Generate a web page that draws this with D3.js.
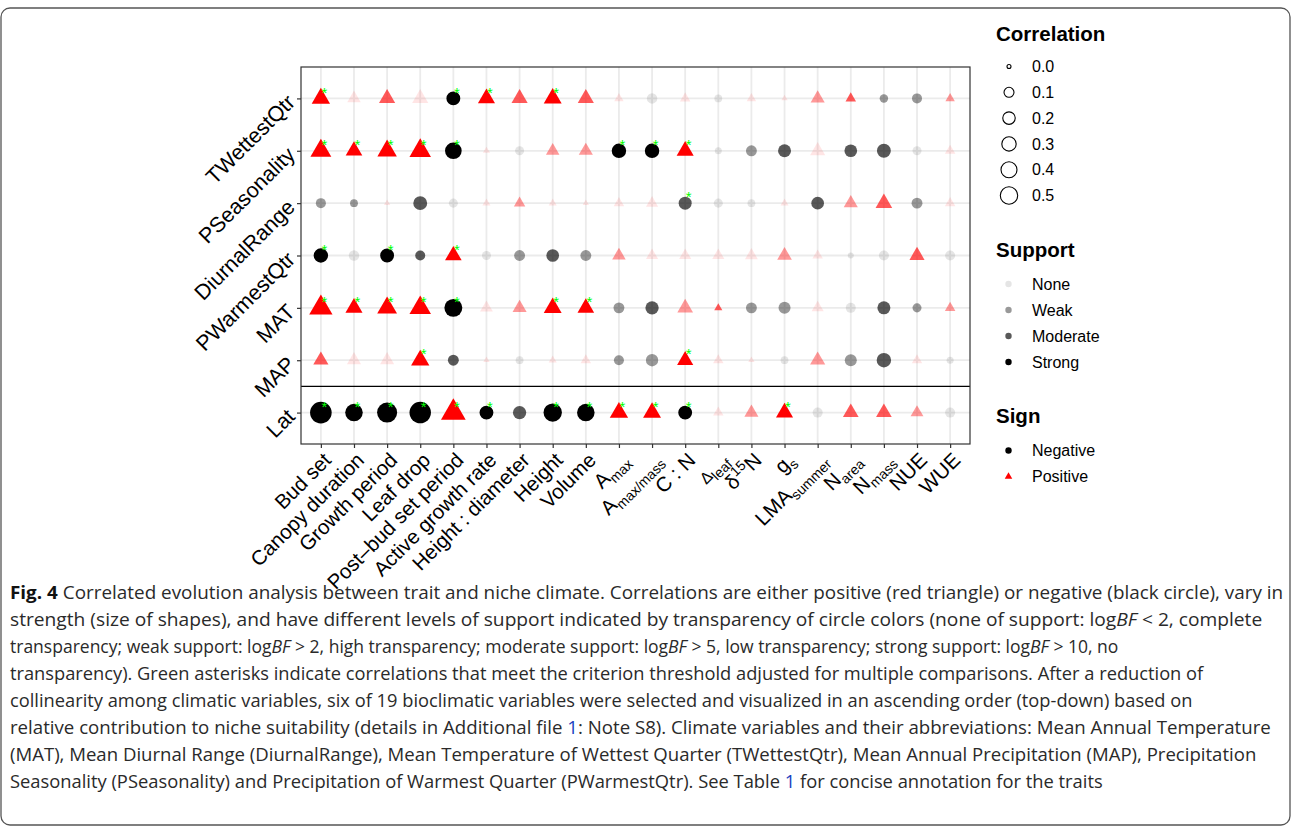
<!DOCTYPE html>
<html>
<head>
<meta charset="utf-8">
<script src="https://cdn.jsdelivr.net/npm/d3@7"></script>
<style>
  html, body { margin: 0; padding: 0; background: #fff; }
  svg { display: block; }
</style>
</head>
<body>
<svg id="chart" width="1292" height="827"></svg>
<script>
// traits (x) and climate variables (y, top to bottom)
const traits = ["Bud set", "Canopy duration", "Growth period", "Leaf drop", "Post–bud set period",
  "Active growth rate", "Height : diameter", "Height", "Volume", "Amax", "Amax/mass", "C : N",
  "Δleaf", "δ15N", "gs", "LMAsummer", "Narea", "Nmass", "NUE", "WUE"];
const climVars = ["TWettestQtr", "PSeasonality", "DiurnalRange", "PWarmestQtr", "MAT", "MAP", "Lat"];

// signed correlation (negative = circle, positive = triangle), one list per climate variable
const corr = [
  [0.17, 0.07, 0.12, 0.12, -0.18, 0.14, 0.12, 0.16, 0.12, 0.02, -0.08, 0.03, -0.03, 0.02, 0.002, 0.08, 0.03, -0.04, -0.07, 0.02],
  [0.24, 0.13, 0.20, 0.26, -0.29, 0.005, -0.05, 0.07, 0.08, -0.20, -0.20, 0.14, -0.02, -0.09, -0.15, 0.10, -0.14, -0.18, -0.05, 0.03],
  [-0.07, -0.03, 0.002, -0.18, -0.05, 0.01, 0.04, 0.01, 0.002, 0.03, 0.05, -0.15, -0.05, -0.03, 0.01, -0.14, 0.08, 0.13, -0.09, 0.03],
  [-0.20, -0.08, -0.18, -0.07, 0.13, -0.05, -0.09, -0.14, -0.09, 0.07, 0.05, 0.05, 0.05, 0.06, 0.09, 0.03, -0.01, -0.07, 0.10, -0.07],
  [0.32, 0.14, 0.21, 0.26, -0.35, 0.06, 0.08, 0.16, 0.13, -0.09, -0.16, 0.11, 0.01, -0.09, -0.12, 0.05, -0.07, -0.15, -0.05, 0.03],
  [0.10, 0.08, 0.08, 0.17, -0.09, 0.002, -0.03, 0.01, 0.03, -0.07, -0.13, 0.12, 0.03, 0.002, -0.03, 0.10, -0.12, -0.20, 0.03, -0.02],
  [-0.55, -0.33, -0.46, -0.54, 0.37, -0.18, -0.16, -0.37, -0.33, 0.17, 0.16, -0.18, 0.03, 0.08, 0.14, -0.07, 0.11, 0.11, 0.06, -0.07],
];

// support level: 0 None, 1 Weak, 2 Moderate, 3 Strong
const support = [
  [3, 0, 2, 0, 3, 3, 2, 3, 2, 0, 0, 0, 0, 0, 0, 1, 2, 1, 1, 1],
  [3, 3, 3, 3, 3, 0, 0, 1, 1, 3, 3, 3, 0, 1, 2, 0, 2, 2, 0, 0],
  [1, 1, 0, 2, 0, 0, 1, 0, 0, 0, 0, 2, 0, 0, 0, 2, 1, 2, 1, 0],
  [3, 0, 3, 2, 3, 0, 1, 2, 1, 1, 0, 0, 0, 0, 1, 0, 0, 0, 2, 0],
  [3, 3, 3, 3, 3, 0, 1, 3, 3, 1, 2, 1, 2, 1, 1, 0, 0, 2, 1, 1],
  [2, 0, 0, 3, 2, 0, 0, 0, 0, 1, 1, 3, 0, 0, 0, 1, 1, 2, 0, 0],
  [3, 3, 3, 3, 3, 3, 2, 3, 3, 3, 3, 3, 0, 1, 3, 0, 2, 2, 1, 0],
];

// green asterisk: passes adjusted threshold
const signif = [
  [1, 0, 0, 0, 1, 1, 0, 1, 0, 0, 0, 0, 0, 0, 0, 0, 0, 0, 0, 0],
  [1, 1, 1, 1, 1, 0, 0, 0, 0, 1, 1, 1, 0, 0, 0, 0, 0, 0, 0, 0],
  [0, 0, 0, 0, 0, 0, 0, 0, 0, 0, 0, 1, 0, 0, 0, 0, 0, 0, 0, 0],
  [1, 0, 1, 0, 1, 0, 0, 0, 0, 0, 0, 0, 0, 0, 0, 0, 0, 0, 0, 0],
  [1, 1, 1, 1, 1, 0, 0, 1, 1, 0, 0, 0, 0, 0, 0, 0, 0, 0, 0, 0],
  [0, 0, 0, 1, 0, 0, 0, 0, 0, 0, 0, 1, 0, 0, 0, 0, 0, 0, 0, 0],
  [1, 1, 1, 1, 1, 1, 0, 1, 1, 1, 1, 1, 0, 0, 1, 0, 0, 0, 0, 0],
];

const supportLevels = ["None", "Weak", "Moderate", "Strong"];
const corrBreaks = [0.0, 0.1, 0.2, 0.3, 0.4, 0.5];
const signLevels = ["Negative", "Positive"];

// label pieces for the trait names that need sub/superscripts
const traitLabels = {
  "Amax": [["A"], ["max", "sub"]],
  "Amax/mass": [["A"], ["max/mass", "sub"]],
  "Δleaf": [["Δ", "small"], ["leaf", "sub"]],
  "δ15N": [["δ"], ["15", "sup"], ["N"]],
  "gs": [["g"], ["s", "sub"]],
  "LMAsummer": [["LMA"], ["summer", "sub"]],
  "Narea": [["N"], ["area", "sub"]],
  "Nmass": [["N"], ["mass", "sub"]],
};

const settings = {
  panel: { left: 301, right: 970, top: 67, bottom: 444 },
  font: "'Liberation Sans', Arial, Helvetica, sans-serif",
  xSize: 20.5,
  ySize: 21.5,
  alpha: [0.1, 0.4, 0.65, 1],
};

const svg = d3.select("#chart");
const P = settings.panel;

// outer frame
svg.append("rect")
  .attr("x", 1).attr("y", 8).attr("width", 1289).attr("height", 817)
  .attr("rx", 9).attr("fill", "#fff").attr("stroke", "#555").attr("stroke-width", 1.3);

const x = d3.scalePoint().domain(traits).range([P.left, P.right]).padding(0.6);
const y = d3.scalePoint().domain(climVars).range([P.top, P.bottom]).padding(0.6);
const rScale = d3.scaleSqrt().domain([0, 0.55]).range([1.8, 10.8]);
const rLegend = d3.scaleSqrt().domain([0, 0.5]).range([2.0, 8.7]);

svg.append("rect")
  .attr("x", P.left).attr("y", P.top)
  .attr("width", P.right - P.left).attr("height", P.bottom - P.top)
  .attr("fill", "#fff");

// grid
const grid = svg.append("g").attr("class", "grid")
  .attr("stroke", "#ebebeb").attr("stroke-width", 1.8);
grid.selectAll("line.v").data(traits).join("line")
  .attr("x1", (d) => x(d)).attr("x2", (d) => x(d))
  .attr("y1", P.top).attr("y2", P.bottom);
grid.selectAll("line.h").data(climVars).join("line")
  .attr("y1", (d) => y(d)).attr("y2", (d) => y(d))
  .attr("x1", P.left).attr("x2", P.right);

// points
const cells = [];
climVars.forEach((cv, i) => {
  traits.forEach((t, j) => {
    cells.push({ cv, t, v: corr[i][j], s: support[i][j], star: signif[i][j] });
  });
});

const tri = (r) => `M0,${-1.5551 * r}L${1.3468 * r},${0.7776 * r}L${-1.3468 * r},${0.7776 * r}Z`;

const pts = svg.append("g").attr("class", "points");
pts.selectAll("path")
  .data(cells)
  .join("path")
  .attr("transform", (d) => `translate(${x(d.t)},${y(d.cv)})`)
  .attr("d", (d) => {
    const r = rScale(Math.abs(d.v));
    return d.v < 0 ? d3.arc()({ innerRadius: 0, outerRadius: r, startAngle: 0, endAngle: 2 * Math.PI }) : tri(r);
  })
  .attr("fill", (d) => (d.v < 0 ? "#000" : "#ff0000"))
  .attr("fill-opacity", (d) => settings.alpha[d.s]);

// divider between MAP and Lat
const yDiv = (y("MAP") + y("Lat")) / 2;
svg.append("line")
  .attr("x1", P.left).attr("x2", P.right).attr("y1", yDiv).attr("y2", yDiv)
  .attr("stroke", "#000").attr("stroke-width", 1.2);

// asterisks
svg.append("g").attr("class", "stars")
  .selectAll("text")
  .data(cells.filter((d) => d.star))
  .join("text")
  .attr("x", (d) => x(d.t) + 3.5)
  .attr("y", (d) => y(d.cv) - 0.8)
  .attr("text-anchor", "middle")
  .attr("font-family", settings.font)
  .attr("font-size", 15)
  .attr("fill", "#00ff00")
  .text("*");

// panel border
svg.append("rect")
  .attr("x", P.left).attr("y", P.top)
  .attr("width", P.right - P.left).attr("height", P.bottom - P.top)
  .attr("fill", "none").attr("stroke", "#333").attr("stroke-width", 1.2);

// axes (ticks only, labels drawn rotated below)
svg.append("g")
  .attr("transform", `translate(0,${P.bottom})`)
  .call(d3.axisBottom(x).tickSize(4).tickSizeOuter(0).tickFormat(""))
  .call((g) => g.select(".domain").remove())
  .call((g) => g.selectAll(".tick line").attr("stroke", "#333").attr("stroke-width", 1.2));

svg.append("g")
  .attr("transform", `translate(${P.left},0)`)
  .call(d3.axisLeft(y).tickSize(4).tickSizeOuter(0).tickFormat(""))
  .call((g) => g.select(".domain").remove())
  .call((g) => g.selectAll(".tick line").attr("stroke", "#333").attr("stroke-width", 1.2));

// y labels
svg.append("g").selectAll("text")
  .data(climVars)
  .join("text")
  .attr("transform", (d) => `translate(${P.left - 10},${y(d)}) rotate(-45)`)
  .attr("text-anchor", "end")
  .attr("dy", "0.35em")
  .attr("font-family", settings.font)
  .attr("font-size", settings.ySize)
  .attr("fill", "#000")
  .text((d) => d);

// x labels
const xl = svg.append("g").selectAll("text")
  .data(traits)
  .join("text")
  .attr("transform", (d) => `translate(${x(d) + 1},${P.bottom + 7}) rotate(-45)`)
  .attr("text-anchor", "end")
  .attr("dy", "0.72em")
  .attr("font-family", settings.font)
  .attr("font-size", settings.xSize)
  .attr("fill", "#000");

xl.each(function (d) {
  const el = d3.select(this);
  const parts = traitLabels[d];
  if (!parts) {
    el.text(d);
    return;
  }
  let shift = 0;
  parts.forEach(([txt, kind]) => {
    const ts = el.append("tspan").text(txt);
    let target = 0;
    if (kind === "sub") { ts.attr("font-size", 14); target = 5; }
    if (kind === "sup") { ts.attr("font-size", 14); target = -8; }
    if (kind === "small") { ts.attr("font-size", 16); }
    if (target !== shift) ts.attr("dy", target - shift);
    shift = target;
  });
});

// legends
const lg = svg.append("g").attr("font-family", settings.font).attr("fill", "#000");
function legendTitle(txt, yy) {
  lg.append("text").attr("x", 996).attr("y", yy)
    .attr("font-size", 20.5).attr("font-weight", "bold").text(txt);
}
function legendLabel(txt, yy) {
  lg.append("text").attr("x", 1032).attr("y", yy).attr("dy", "0.35em")
    .attr("font-size", 16).text(txt);
}

legendTitle("Correlation", 41);
corrBreaks.forEach((b, i) => {
  const yy = 66.5 + i * 25.8;
  lg.append("circle").attr("cx", 1009).attr("cy", yy).attr("r", rLegend(b))
    .attr("fill", "none").attr("stroke", "#000").attr("stroke-width", 1.1);
  legendLabel(b.toFixed(1), yy);
});

legendTitle("Support", 257);
supportLevels.forEach((s, i) => {
  const yy = 284 + i * 26;
  lg.append("circle").attr("cx", 1008.5).attr("cy", yy).attr("r", 3.2)
    .attr("fill", "#000").attr("fill-opacity", settings.alpha[i]);
  legendLabel(s, yy);
});

legendTitle("Sign", 423);
signLevels.forEach((s, i) => {
  const yy = 450.5 + i * 26;
  if (i === 0) {
    lg.append("circle").attr("cx", 1008.5).attr("cy", yy).attr("r", 3.2).attr("fill", "#000");
  } else {
    lg.append("path").attr("transform", `translate(1008.5,${yy})`).attr("d", tri(2.8)).attr("fill", "#ff0000");
  }
  legendLabel(s, yy);
});

// caption
const captionLines = [
  [["Fig. 4", "b"], [" Correlated evolution analysis between trait and niche climate. Correlations are either positive (red triangle) or negative (black circle), vary in"]],
  [["strength (size of shapes), and have different levels of support indicated by transparency of circle colors (none of support: log"], ["BF", "i"], [" < 2, complete"]],
  [["transparency; weak support: log"], ["BF", "i"], [" > 2, high transparency; moderate support: log"], ["BF", "i"], [" > 5, low transparency; strong support: log"], ["BF", "i"], [" > 10, no"]],
  [["transparency). Green asterisks indicate correlations that meet the criterion threshold adjusted for multiple comparisons. After a reduction of"]],
  [["collinearity among climatic variables, six of 19 bioclimatic variables were selected and visualized in an ascending order (top-down) based on"]],
  [["relative contribution to niche suitability (details in Additional file "], ["1", "l"], [": Note S8). Climate variables and their abbreviations: Mean Annual Temperature"]],
  [["(MAT), Mean Diurnal Range (DiurnalRange), Mean Temperature of Wettest Quarter (TWettestQtr), Mean Annual Precipitation (MAP), Precipitation"]],
  [["Seasonality (PSeasonality) and Precipitation of Warmest Quarter (PWarmestQtr). See Table "], ["1", "l"], [" for concise annotation for the traits"]],
];
const captionEnds = [1284, 1263, 1119, 1204, 1194, 1271, 1257, 1104];

const cap = svg.append("g")
  .attr("font-family", "'Open Sans', 'DejaVu Sans', sans-serif")
  .attr("font-size", 18)
  .attr("fill", "#2a2a2a");
captionLines.forEach((parts, i) => {
  const t = cap.append("text").attr("x", 0).attr("y", 0);
  parts.forEach(([txt, kind]) => {
    const ts = t.append("tspan").text(txt);
    if (kind === "b") ts.attr("font-weight", "bold").attr("fill", "#111");
    if (kind === "i") ts.attr("font-style", "italic");
    if (kind === "l") ts.attr("fill", "#1a3fc0");
  });
  // squeeze horizontally to the condensed width of the journal font
  const w = t.node().getComputedTextLength();
  const sx = (captionEnds[i] - 10) / w;
  t.attr("transform", `translate(10,${599 + i * 27}) scale(${sx},1)`);
});
</script>
</body>
</html>
